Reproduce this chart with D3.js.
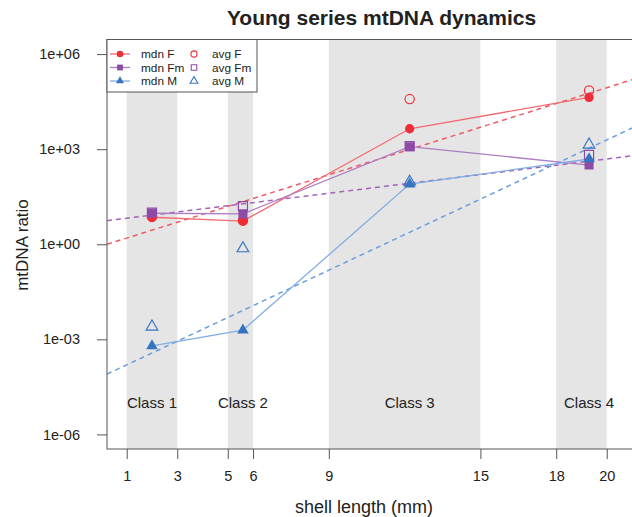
<!DOCTYPE html>
<html>
<head>
<meta charset="utf-8">
<script src="https://cdn.jsdelivr.net/npm/d3@7"></script>
<style>
  body { margin: 0; background: #fff; }
  text { font-family: "Liberation Sans", Arial, Helvetica, sans-serif; fill: #222; }
</style>
</head>
<body>
<div id="chart"></div>
<script>
// Young series mtDNA dynamics: log-scale ratio vs shell length
const width = 632, height = 517;
const plot = {left: 107, right: 656, top: 39.5, bottom: 449};

// data
const classNames = ["Class 1", "Class 2", "Class 3", "Class 4"];
const classStart = [1, 5, 9, 18];
const classEnd = [3, 6, 15, 20];
const classMid = [2, 5.6, 12.2, 19.3];
const mdnF = [7.1, 5.4, 4400, 43000];
const mdnFm = [9.5, 9.1, 1200, 316];
const mdnM = [6.2e-4, 1.95e-3, 79, 490];
const avgF = [7.3, 5.6, 38000, 71000];
const avgFm = [10, 16, 1250, 660];
const avgM = [2.5e-3, 0.74, 93, 1380];
// fitted trend lines: log10(ratio) = a + b * length
const fitF = [-0.055, 0.2497];
const fitFm = [0.723, 0.0984];
const fitM = [-4.18, 0.3736];
const xTicks = [1, 3, 5, 6, 9, 15, 18, 20];
const yTicks = [1e-6, 1e-3, 1, 1e3, 1e6];

const colF = "#ED2D38", colFm = "#8E4BA6", colM = "#3674C2";
const lineF = "#F26B72", lineFm = "#AD7DC4", lineM = "#7FAEE3";

const svg = d3.select("#chart").append("svg")
  .attr("width", width).attr("height", height);

const x = d3.scaleLinear().domain([0.22, 21.95]).range([plot.left, plot.right]);
const y = d3.scaleLog().domain([Math.pow(10, -6.46), Math.pow(10, 6.46)])
  .range([plot.bottom, plot.top]);

svg.append("defs").append("clipPath").attr("id", "clip")
  .append("rect").attr("x", plot.left).attr("y", plot.top)
  .attr("width", plot.right - plot.left).attr("height", plot.bottom - plot.top);

const g = svg.append("g").attr("clip-path", "url(#clip)");

// class bands
g.selectAll("rect.band").data(classStart).join("rect")
  .attr("class", "band")
  .attr("x", (d, i) => x(d)).attr("width", (d, i) => x(classEnd[i]) - x(d))
  .attr("y", plot.top).attr("height", plot.bottom - plot.top)
  .attr("fill", "#e5e5e5");

// class labels
g.selectAll("text.cls").data(classNames).join("text")
  .attr("class", "cls")
  .attr("x", (d, i) => x(classMid[i])).attr("y", y(1e-5))
  .attr("dy", "0.35em").attr("text-anchor", "middle")
  .attr("font-size", 15).text(d => d);

// dashed trend lines
const xs = x.domain();
[[fitF, "#EE5B63"], [fitFm, "#A263BA"], [fitM, "#6A9EDC"]].forEach(([f, c]) => {
  g.append("line")
    .attr("x1", x(xs[0])).attr("y1", y(Math.pow(10, f[0] + f[1] * xs[0])))
    .attr("x2", x(xs[1])).attr("y2", y(Math.pow(10, f[0] + f[1] * xs[1])))
    .attr("stroke", c).attr("stroke-width", 1.5).attr("stroke-dasharray", "5,4");
});

// median lines
const line = d3.line().x((d, i) => x(classMid[i])).y(d => y(d));
[[mdnF, lineF], [mdnFm, lineFm], [mdnM, lineM]].forEach(([vals, c]) => {
  g.append("path").attr("d", line(vals)).attr("fill", "none")
    .attr("stroke", c).attr("stroke-width", 1.3);
});

const symType = {circle: d3.symbolCircle, square: d3.symbolSquare, triangle: d3.symbolTriangle};
const symSize = {circle: 68, square: 82, triangle: 58};

function drawPoints(vals, shape, color, filled) {
  g.append("g").selectAll("path").data(vals).join("path")
    .attr("transform", (d, i) => `translate(${x(classMid[i])},${y(d)})`)
    .attr("d", d3.symbol().type(symType[shape]).size(symSize[shape])())
    .attr("fill", filled ? color : "none")
    .attr("stroke", color).attr("stroke-width", filled ? 0 : 1.2);
}

drawPoints(avgF, "circle", colF, false);
drawPoints(avgFm, "square", colFm, false);
drawPoints(avgM, "triangle", colM, false);
drawPoints(mdnF, "circle", colF, true);
drawPoints(mdnFm, "square", colFm, true);
drawPoints(mdnM, "triangle", colM, true);

// box
svg.append("rect").attr("x", plot.left).attr("y", plot.top)
  .attr("width", plot.right - plot.left).attr("height", plot.bottom - plot.top)
  .attr("fill", "none").attr("stroke", "#555").attr("stroke-width", 1);

// axes
const fmtExp = d => {
  const e = Math.round(Math.log10(d));
  return "1e" + (e < 0 ? "-" : "+") + String(Math.abs(e)).padStart(2, "0");
};
const yAxis = svg.append("g").attr("transform", `translate(${plot.left},0)`)
  .call(d3.axisLeft(y).tickValues(yTicks).tickFormat(fmtExp).tickSize(10).tickPadding(17));
const xAxis = svg.append("g").attr("transform", `translate(0,${plot.bottom})`)
  .call(d3.axisBottom(x).tickValues(xTicks).tickFormat(d3.format("d")).tickSize(10).tickPadding(12));
[yAxis, xAxis].forEach(a => {
  a.select(".domain").remove();
  a.selectAll("line").attr("stroke", "#555");
  a.selectAll("text").attr("font-size", 14.5).attr("fill", "#222")
    .attr("font-family", "'Liberation Sans', Arial, sans-serif");
});

// titles
svg.append("text").attr("x", 381.5).attr("y", 25).attr("text-anchor", "middle")
  .attr("font-size", 21).attr("font-weight", "bold").text("Young series mtDNA dynamics");
svg.append("text").attr("x", 364).attr("y", 513).attr("text-anchor", "middle")
  .attr("font-size", 18).text("shell length (mm)");
svg.append("text").attr("transform", "rotate(-90)").attr("x", -245).attr("y", 28)
  .attr("text-anchor", "middle").attr("font-size", 17).text("mtDNA ratio");

// legend
const legend = svg.append("g");
legend.append("rect").attr("x", plot.left).attr("y", plot.top)
  .attr("width", 150).attr("height", 52.5)
  .attr("fill", "#fff").attr("stroke", "#555");
const legItems = [
  ["mdn F", "avg F", "circle", colF, lineF],
  ["mdn Fm", "avg Fm", "square", colFm, lineFm],
  ["mdn M", "avg M", "triangle", colM, lineM]
];
legItems.forEach((it, i) => {
  const ly = 54 + i * 13.5;
  legend.append("line").attr("x1", 110).attr("x2", 130).attr("y1", ly).attr("y2", ly)
    .attr("stroke", it[4]).attr("stroke-width", 1.3);
  legend.append("path").attr("transform", `translate(120,${ly})`)
    .attr("d", d3.symbol().type(symType[it[2]]).size(it[2] === "triangle" ? 28 : 34)())
    .attr("fill", it[3]);
  legend.append("path").attr("transform", `translate(194,${ly})`)
    .attr("d", d3.symbol().type(symType[it[2]]).size(it[2] === "triangle" ? 26 : 30)())
    .attr("fill", "none").attr("stroke", it[3]).attr("stroke-width", 1.1);
  legend.append("text").attr("x", 141).attr("y", ly).attr("dy", "0.35em")
    .attr("font-size", 11.8).text(it[0]);
  legend.append("text").attr("x", 212).attr("y", ly).attr("dy", "0.35em")
    .attr("font-size", 11.8).text(it[1]);
});
</script>
</body>
</html>
